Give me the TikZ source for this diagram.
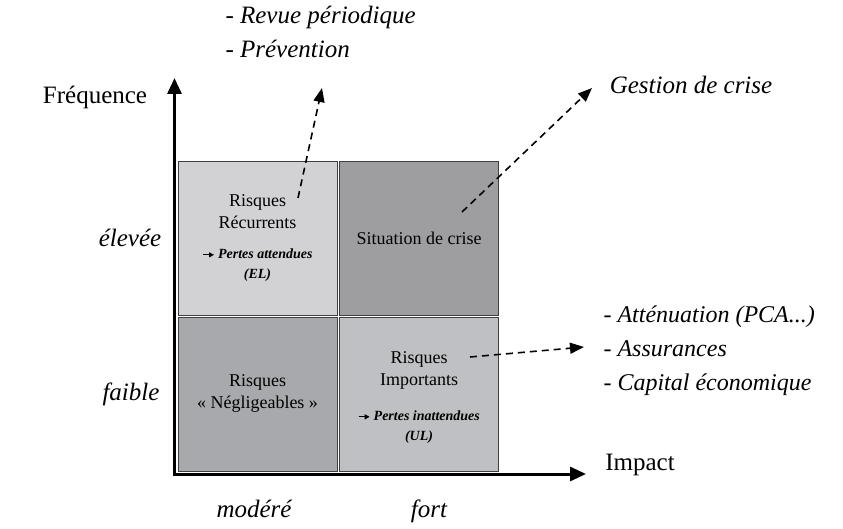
\documentclass[tikz,border=0pt]{standalone}
\usepackage{fontspec}
\setmainfont{Liberation Serif}
\usetikzlibrary{arrows.meta}
\definecolor{boxA}{RGB}{210,210,212}
\definecolor{boxB}{RGB}{158,158,161}
\definecolor{boxC}{RGB}{168,169,172}
\definecolor{boxD}{RGB}{191,192,195}
\newcommand{\fleche}{\tikz[baseline=-0.55ex]\draw[line width=1.1pt,-{Triangle[length=5pt,width=5pt]}] (0,0) -- (11pt,0);}
\tikzset{
  cell/.style={draw=black!75, line width=0.8pt, minimum width=159pt, minimum height=154pt, inner sep=0pt, align=center, font=\fontsize{18}{22}\selectfont},
  axe/.style={line width=3pt, -{Triangle[length=16pt,width=14pt]}},
  renvoi/.style={line width=1.6pt, dashed, dash pattern=on 7pt off 5pt, -{Triangle[length=14pt,width=11pt]}},
  lab/.style={font=\fontsize{25}{33}\selectfont, align=left},
  note/.style={font=\fontsize{14}{20}\selectfont\bfseries\itshape}
}
\begin{document}
\begin{tikzpicture}[x=1pt,y=-1pt]
	\useasboundingbox (0,0) rectangle (843,529);
	% the four cells
	\node[cell, fill=boxA, anchor=north west] (recur) at (178,161) {};
	\node[cell, fill=boxB, anchor=north west] (crise) at (339,161) {};
	\node[cell, fill=boxC, anchor=north west] (neglig) at (178,317) {};
	\node[cell, fill=boxD, anchor=north west] (import) at (339,317) {};
	% texts in the cells
	\node[font=\fontsize{18}{22}\selectfont, align=center] (recurT) at (257.5,212) {Risques\\R\'ecurrents};
	\node[note, align=center] (recurN) at (257.5,265) {\fleche\ Pertes attendues\\(EL)};
	\node[font=\fontsize{18}{22}\selectfont] (criseT) at (419,238) {Situation de crise};
	\node[font=\fontsize{18}{22}\selectfont, align=center] (neglT) at (257.5,393) {Risques\\\guillemotleft~N\'egligeables~\guillemotright};
	\node[font=\fontsize{18}{22}\selectfont, align=center] (importT) at (419,370) {Risques\\Importants};
	\node[note, align=center] (importN) at (419,427) {\fleche\ Pertes inattendues\\(UL)};
	% axes
	\coordinate (origine) at (174.5,474);
	\coordinate (haut) at (174.5,78);
	\coordinate (droite) at (586,474);
	\draw[axe] (origine) ++(0,1.5) -- (haut);
	\draw[axe] (origine) ++(-1.5,0) -- (droite);
	\node[lab] (freq) at (95,97) {Fr\'equence};
	\node[lab] (impact) at (640,465) {Impact};
	\node[lab, font=\fontsize{25}{33}\selectfont\itshape] (elevee) at (130,238) {\'elev\'ee};
	\node[lab, font=\fontsize{25}{33}\selectfont\itshape] (faible) at (131,394) {faible};
	\node[lab, font=\fontsize{25}{33}\selectfont\itshape, anchor=base] (modere) at (254,517) {mod\'er\'e};
	\node[lab, font=\fontsize{25}{33}\selectfont\itshape, anchor=base] (fort) at (429,517) {fort};
	% actions
	\node[lab, font=\fontsize{25}{34}\selectfont\itshape, anchor=north west] (prev) at (222,3) {- Revue p\'eriodique\\- Pr\'evention};
	\node[lab, font=\fontsize{25}{33}\selectfont\itshape] (gestion) at (691,85) {Gestion de crise};
	\node[lab, font=\fontsize{24}{34}\selectfont\itshape, anchor=north west] (attenu) at (600,302) {- Att\'enuation (PCA...)\\- Assurances\\- Capital \'economique};
	\coordinate (d1) at (298,198);
	\coordinate (d2) at (462,212);
	\coordinate (d3) at (470,357);
	\draw[renvoi] (d1) -- (322,88);
	\draw[renvoi] (d2) -- (592,88);
	\draw[renvoi] (d3) -- (584,347);
\end{tikzpicture}
\end{document}
